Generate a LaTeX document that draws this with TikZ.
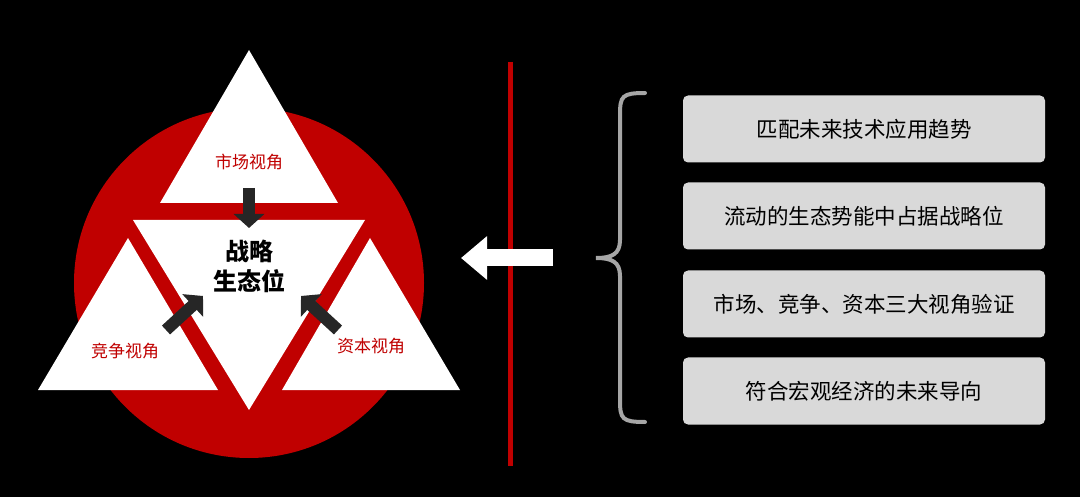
\documentclass[tikz,border=0pt]{standalone}
\usepackage{fontspec}
\setmainfont{Noto Sans CJK SC}
\usetikzlibrary{arrows.meta}
\definecolor{deepred}{HTML}{C00000}
\definecolor{boxgray}{HTML}{D9D9D9}
\definecolor{bracegray}{HTML}{A6A6A6}
\definecolor{arrowdark}{HTML}{262626}
\tikzset{
  view/.style={text=deepred, font=\fontsize{17}{19}\selectfont},
  goalbox/.style={fill=boxgray, rounded corners=5pt, minimum width=362pt, minimum height=67pt, font=\fontsize{21.5}{24}\selectfont},
  push/.style={arrowdark, line width=12pt, -{Triangle[length=14pt,width=30pt]}}
}
\begin{document}
\begin{tikzpicture}[x=1pt,y=-1pt]
\fill[black] (0,0) rectangle (1080,497);
\useasboundingbox (0,0) rectangle (1080,497);
% circle and triangles
\fill[deepred] (249,283) circle (175);
\fill[white] (249,50) -- (338,203) -- (160,203) -- cycle;
\fill[white] (133,220) -- (365,220) -- (249,410) -- cycle;
\fill[white] (128,238) -- (218,390) -- (38,390) -- cycle;
\fill[white] (370,238) -- (460,390) -- (282,390) -- cycle;
\node[view] (market) at (249,162) {市场视角};
\node[view] (compete) at (125,351) {竞争视角};
\node[view] (capital) at (371,346) {资本视角};
\node[font=\fontsize{24}{30}\selectfont\bfseries, align=center] (core) at (249,266) {战略\\生态位};
% arrows into the core
\coordinate (t1) at (249,188); \coordinate (t2) at (249,228);
\coordinate (l1) at (166,330); \coordinate (l2) at (203,296);
\coordinate (r1) at (338,330); \coordinate (r2) at (301,296);
\draw[push] (t1) -- (t2);
\draw[push] (l1) -- (l2);
\draw[push] (r1) -- (r2);
% divider
\coordinate (d1) at (510,62); \coordinate (d2) at (510,466);
\draw[deepred, line width=5pt] (d1) -- (d2);
\coordinate (w1) at (553,258); \coordinate (w2) at (461,258);
\draw[white, line width=17pt, -{Triangle[length=26pt,width=42pt]}] (w1) -- (w2);
% brace
\draw[bracegray, line width=4pt, line cap=round]
  (645,93) .. controls (622,93) and (620,96) .. (620,115) -- (620,240)
  .. controls (620,254) and (612,258) .. (596,258) .. controls (612,258) and (620,262) .. (620,276)
  -- (620,400) .. controls (620,419) and (622,422) .. (645,422);
% goals
\node[goalbox] (g1) at (864,129) {匹配未来技术应用趋势};
\node[goalbox] (g2) at (864,216) {流动的生态势能中占据战略位};
\node[goalbox] (g3) at (864,304) {市场、竞争、资本三大视角验证};
\node[goalbox] (g4) at (864,391) {符合宏观经济的未来导向};
\end{tikzpicture}
\end{document}
